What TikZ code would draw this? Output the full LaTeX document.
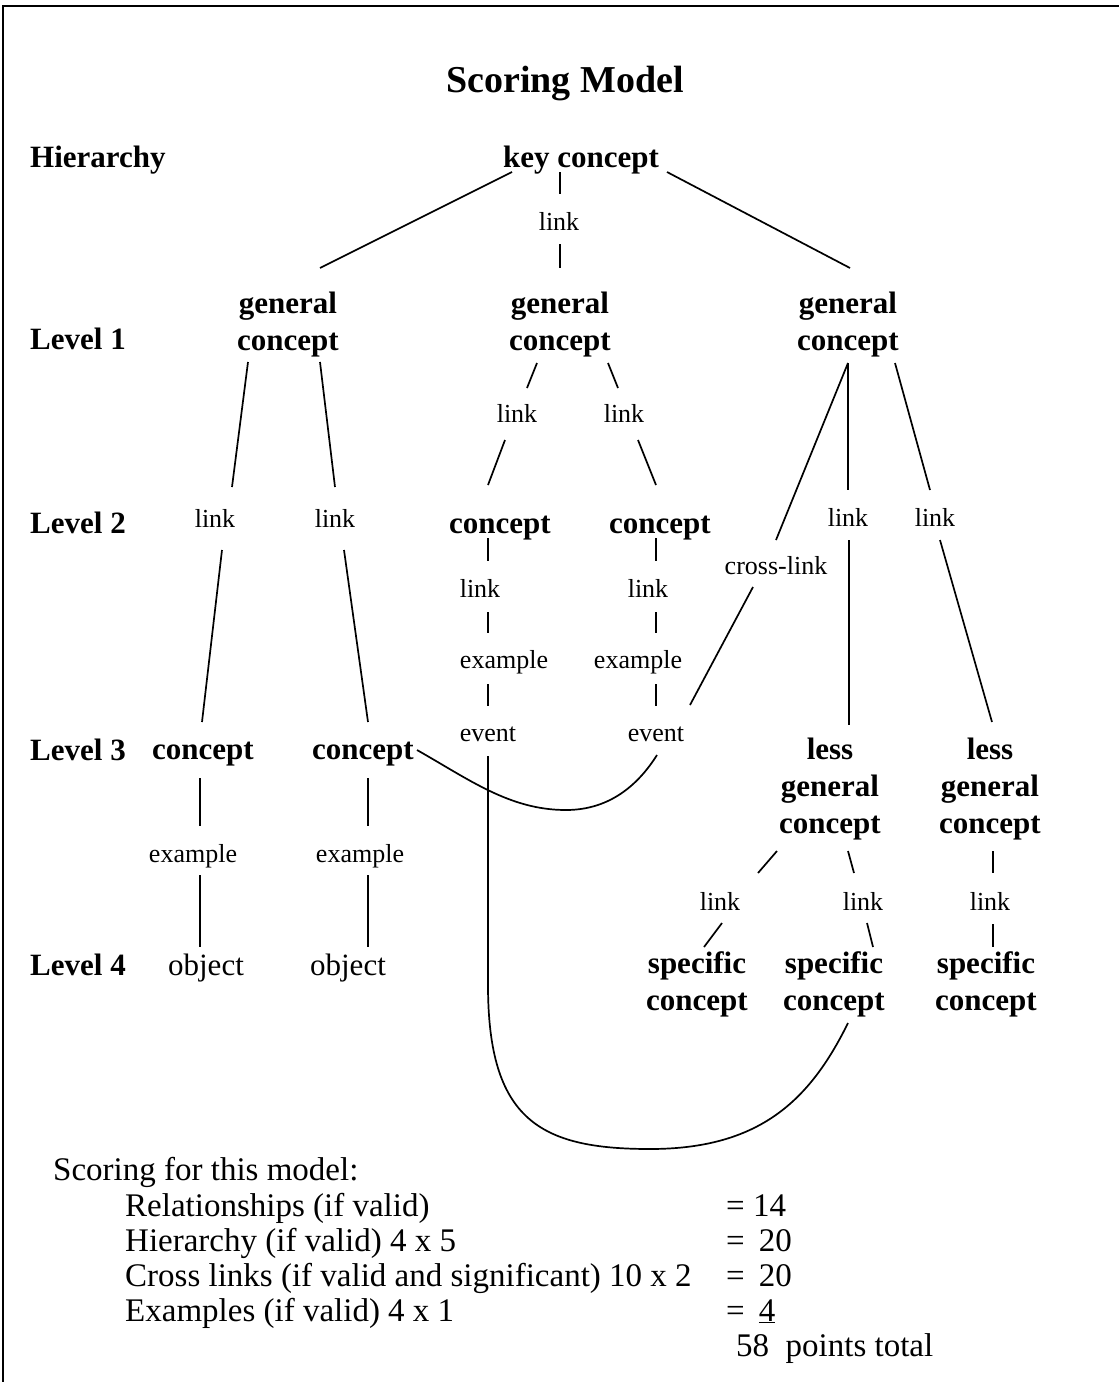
\documentclass[tikz,border=0pt]{standalone}
\usepackage{fontspec}
\setmainfont{Liberation Serif}
\usetikzlibrary{calc}
\begin{document}
\begin{tikzpicture}[x=1pt,y=-1pt,
  bnode/.style={font=\fontsize{31}{37}\selectfont\bfseries, align=center, inner sep=0pt, anchor=base},
  snode/.style={font=\fontsize{26}{30}\selectfont, inner sep=0pt, anchor=base},
  rnode/.style={font=\fontsize{31}{36}\selectfont, inner sep=0pt, anchor=base},
  lvl/.style={font=\fontsize{31}{37}\selectfont\bfseries, inner sep=0pt, anchor=base west},
  score/.style={font=\fontsize{33}{36}\selectfont, inner sep=0pt, anchor=base west},
  conn/.style={line width=1.7pt},
  frame/.style={line width=2pt}]
\useasboundingbox (0,0) rectangle (1119,1382);
\draw[frame] (3,1390) -- (3,6) -- (1125,6);

% title and level labels
\node[bnode, font=\fontsize{38}{44}\selectfont\bfseries] (title) at (565,92) {Scoring Model};
\node[lvl] (hier) at (30,167) {Hierarchy};
\node[lvl] (lv1) at (30,349) {Level 1};
\node[lvl] (lv2) at (30,533) {Level 2};
\node[lvl] (lv3) at (30,760) {Level 3};
\node[lvl] (lv4) at (30,975) {Level 4};

% concepts (base anchor of a multi-line node = baseline of its last line)
\node[bnode] (kc) at (581,167) {key concept};
\node[snode] (lk0) at (559,230) {link};
\node[bnode] (gcL) at (288,350) {general\\concept};
\node[bnode] (gcM) at (560,350) {general\\concept};
\node[bnode] (gcR) at (848,350) {general\\concept};

\node[snode] (lkM1) at (517,422) {link};
\node[snode] (lkM2) at (624,422) {link};
\node[snode] (lkA) at (215,527) {link};
\node[snode] (lkB) at (335,527) {link};
\node[bnode] (cM1) at (500,533) {concept};
\node[bnode] (cM2) at (660,533) {concept};
\node[snode] (lkR1) at (848,526) {link};
\node[snode] (lkR2) at (935,526) {link};
\node[snode] (cross) at (776,574) {cross-link};

\node[snode] (lkC1) at (480,597) {link};
\node[snode] (lkC2) at (648,597) {link};
\node[snode] (exC1) at (504,668) {example};
\node[snode] (exC2) at (638,668) {example};
\node[snode] (evC1) at (488,741) {event};
\node[snode] (evC2) at (656,741) {event};

\node[bnode] (cA) at (203,759) {concept};
\node[bnode] (cB) at (363,759) {concept};
\node[bnode] (lgc1) at (830,833) {less\\general\\concept};
\node[bnode] (lgc2) at (990,833) {less\\general\\concept};

\node[snode] (exA) at (193,862) {example};
\node[snode] (exB) at (360,862) {example};
\node[snode] (lkS1) at (720,910) {link};
\node[snode] (lkS2) at (863,910) {link};
\node[snode] (lkS3) at (990,910) {link};

\node[rnode] (obA) at (206,975) {object};
\node[rnode] (obB) at (348,975) {object};
\node[bnode] (sp1) at (697,1010) {specific\\concept};
\node[bnode] (sp2) at (834,1010) {specific\\concept};
\node[bnode] (sp3) at (986,1010) {specific\\concept};

% connectors
\draw[conn] ($(kc.base)+(-21,5)$) -- ($(lk0.base)+(1,-36)$);
\draw[conn] ($(lk0.base)+(1,14)$) -- ($(gcM.base)+(0,-82)$);
\draw[conn] ($(kc.base)+(-69,5)$) -- ($(gcL.base)+(32,-82)$);
\draw[conn] ($(kc.base)+(86,5)$) -- ($(gcR.base)+(2,-82)$);

\draw[conn] ($(gcL.base)+(-40,12)$) -- ($(lkA.base)+(17,-40)$);
\draw[conn] ($(lkA.base)+(7,23)$) -- ($(cA.base)+(-1,-37)$);
\draw[conn] ($(gcL.base)+(32,12)$) -- ($(lkB.base)+(0,-40)$);
\draw[conn] ($(lkB.base)+(9,23)$) -- ($(cB.base)+(5,-37)$);

\draw[conn] ($(gcM.base)+(-23,13)$) -- ($(lkM1.base)+(10,-34)$);
\draw[conn] ($(lkM1.base)+(-12,18)$) -- ($(cM1.base)+(-12,-48)$);
\draw[conn] ($(gcM.base)+(48,13)$) -- ($(lkM2.base)+(-6,-34)$);
\draw[conn] ($(lkM2.base)+(14,18)$) -- ($(cM2.base)+(-4,-48)$);

\draw[conn] ($(cM1.base)+(-12,5)$) -- ($(lkC1.base)+(8,-36)$);
\draw[conn] ($(lkC1.base)+(8,15)$) -- ($(exC1.base)+(-16,-35)$);
\draw[conn] ($(exC1.base)+(-16,16)$) -- ($(evC1.base)+(0,-35)$);
\draw[conn] ($(cM2.base)+(-4,5)$) -- ($(lkC2.base)+(8,-36)$);
\draw[conn] ($(lkC2.base)+(8,15)$) -- ($(exC2.base)+(18,-35)$);
\draw[conn] ($(exC2.base)+(18,16)$) -- ($(evC2.base)+(0,-35)$);

\draw[conn] ($(gcR.base)+(0,13)$) -- ($(cross.base)+(0,-34)$);
\draw[conn] ($(cross.base)+(-23,13)$) -- ($(evC2.base)+(34,-36)$);
\draw[conn] ($(gcR.base)+(0,13)$) -- ($(lkR1.base)+(0,-36)$);
\draw[conn] ($(lkR1.base)+(1,14)$) -- ($(lgc1.base)+(19,-108)$);
\draw[conn] ($(gcR.base)+(47,13)$) -- ($(lkR2.base)+(-5,-36)$);
\draw[conn] ($(lkR2.base)+(5,14)$) -- ($(lgc2.base)+(2,-111)$);

\draw[conn] ($(lgc1.base)+(-53,18)$) -- ($(lkS1.base)+(38,-37)$);
\draw[conn] ($(lkS1.base)+(2,13)$) -- ($(sp1.base)+(7,-63)$);
\draw[conn] ($(lgc1.base)+(18,18)$) -- ($(lkS2.base)+(-9,-37)$);
\draw[conn] ($(lkS2.base)+(4,13)$) -- ($(sp2.base)+(39,-63)$);
\draw[conn] ($(lgc2.base)+(3,18)$) -- ($(lkS3.base)+(3,-37)$);
\draw[conn] ($(lkS3.base)+(3,14)$) -- ($(sp3.base)+(7,-63)$);

\draw[conn] ($(cA.base)+(-3,19)$) -- ($(exA.base)+(7,-36)$);
\draw[conn] ($(exA.base)+(7,13)$) -- ($(obA.base)+(-6,-28)$);
\draw[conn] ($(cB.base)+(5,19)$) -- ($(exB.base)+(8,-36)$);
\draw[conn] ($(exB.base)+(8,13)$) -- ($(obB.base)+(20,-28)$);

% cross-link curves
\draw[conn] ($(cB.base)+(54,-9)$) .. controls (470,780) and (510,810) .. (566,810)
  .. controls (612,810) and (640,782) .. ($(evC2.base)+(1,14)$);
\draw[conn] ($(evC1.base)+(0,15)$) -- (488,985)
  .. controls (488,1120) and (540,1149) .. (650,1149)
  .. controls (760,1149) and (810,1100) .. ($(sp2.base)+(14,13)$);

% scoring
\node[score] (sc0) at (53,1180) {Scoring for this model:};
\node[score] (sc1) at (125,1216) {Relationships (if valid)};
\node[score] (sc2) at (125,1251) {Hierarchy (if valid) 4 x 5};
\node[score] (sc3) at (125,1286) {Cross links (if valid and significant) 10 x 2};
\node[score] (sc4) at (125,1321) {Examples (if valid) 4 x 1};
\node[score] (v1) at (726,1216) {= 14};
\node[score] (v2) at (726,1251) {=\hspace{14pt}20};
\node[score] (v3) at (726,1286) {=\hspace{14pt}20};
\node[score] (v4) at (726,1321) {=\hspace{14pt}\underline{4}};
\node[score] (v5) at (736,1356) {58\ \ points total};
\end{tikzpicture}
\end{document}
